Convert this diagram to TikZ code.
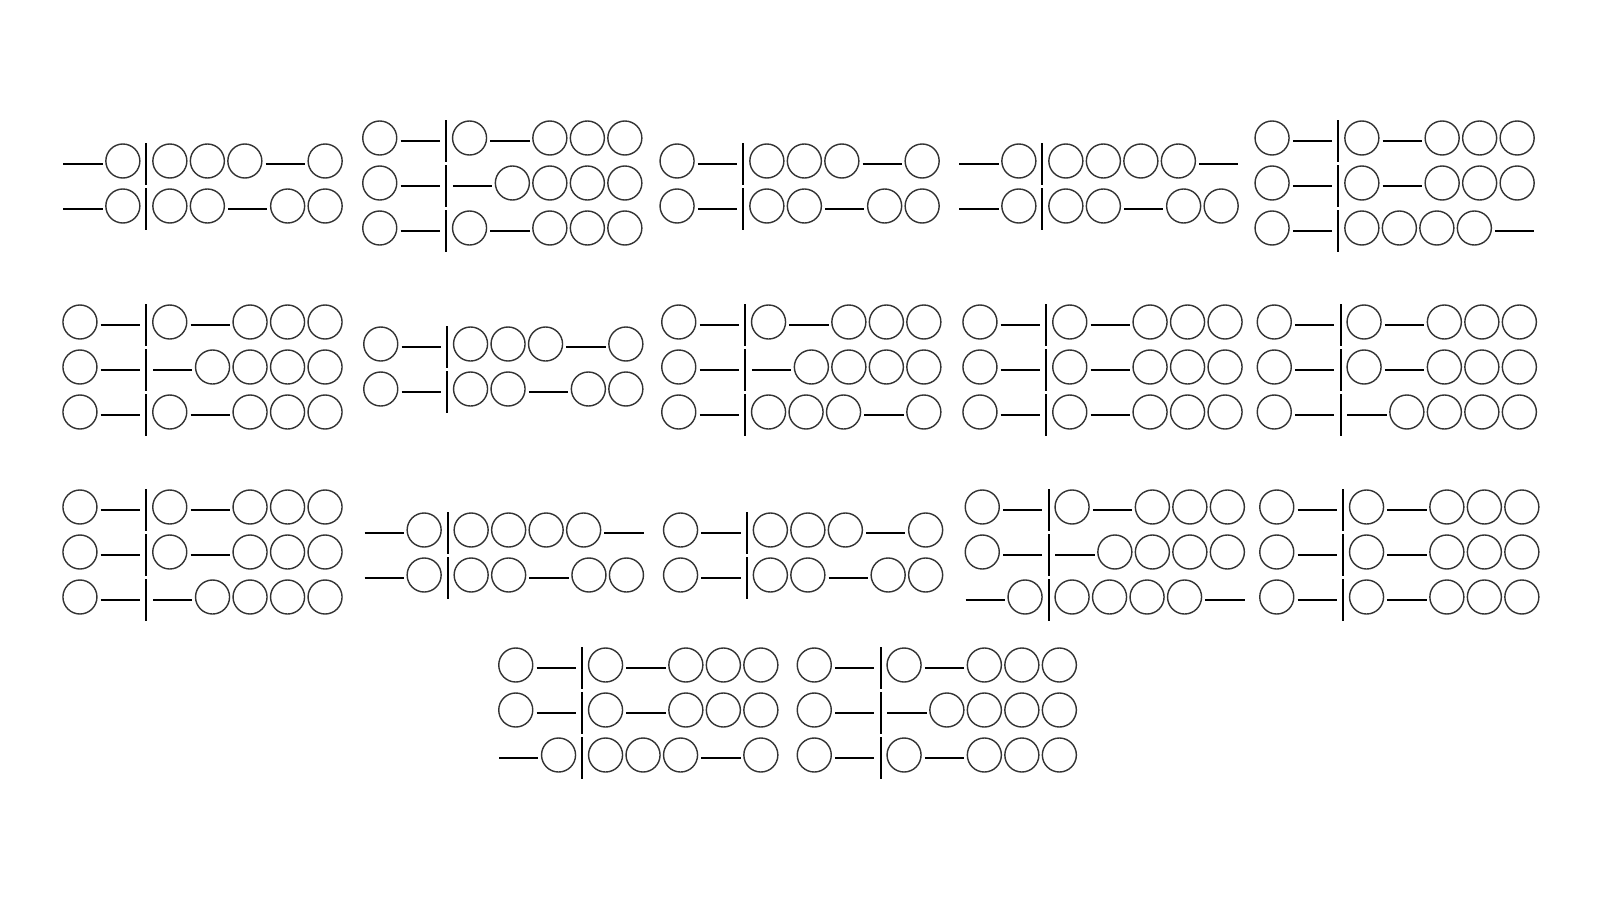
\documentclass[tikz,border=0pt]{standalone}
\begin{document}
\begin{tikzpicture}[x=0.01cm,y=0.01cm,
  bead/.style={draw=black!80,line width=0.4pt},
  rod/.style={draw=black,line width=0.75pt},
  barline/.style={draw=black,line width=0.75pt}]
\fill[white] (0,0) rectangle (1600,-900);
\useasboundingbox (0,0) rectangle (1600,-900);
% #1 row start x, #2 bead centre y (image px), #3 upper bead (0 = left, 1 = right), #4 lower count
\newcommand\abrow[4]{%
  \pgfmathsetmacro\abX{#1}\pgfmathsetmacro\abY{-round(#2)}%
  \pgfmathsetmacro\abB{round(\abX+85.05)}%
  \ifnum#3=0
    \draw[bead] (\abX+18.75,\abY) circle[radius=0.17cm];
    \draw[rod] (\abX+39.5,\abY-3) -- (\abX+78.8,\abY-3);
  \else
    \draw[rod] (\abX+2,\abY-3) -- (\abX+41.3,\abY-3);
    \draw[bead] (\abX+61.55,\abY) circle[radius=0.17cm];
  \fi
  \draw[barline] (\abB,\abY+17.6) -- (\abB,\abY-24);
  \pgfmathsetmacro\abR{\abX+89.8}%
  \foreach \i in {0,...,3}{%
    \ifnum\i<#4
      \draw[bead] (\abR+18.75+37.5*\i,\abY) circle[radius=0.17cm];
    \else
      \draw[bead] (\abR+61.55+37.5*\i,\abY) circle[radius=0.17cm];
    \fi}
  \draw[rod] (\abR+37.5*#4+2,\abY-3) -- (\abR+37.5*#4+41.3,\abY-3);
}
% band A
\abrow{61.3}{160.5}{1}{3}\abrow{61.3}{206.2}{1}{2}
\abrow{361}{137.5}{0}{1}\abrow{361}{182.5}{0}{0}\abrow{361}{227.5}{0}{1}
\abrow{658.3}{160.5}{0}{3}\abrow{658.3}{206.2}{0}{2}
\abrow{957.3}{160.5}{1}{4}\abrow{957.3}{206.2}{1}{2}
\abrow{1253.3}{137.5}{0}{1}\abrow{1253.3}{182.5}{0}{1}\abrow{1253.3}{227.5}{0}{4}
% band B
\abrow{61.2}{321.7}{0}{1}\abrow{61.2}{366.7}{0}{0}\abrow{61.2}{411.7}{0}{1}
\abrow{362}{344}{0}{3}\abrow{362}{389}{0}{2}
\abrow{660}{321.7}{0}{1}\abrow{660}{366.7}{0}{0}\abrow{660}{411.7}{0}{3}
\abrow{961.2}{321.7}{0}{1}\abrow{961.2}{366.7}{0}{1}\abrow{961.2}{411.7}{0}{1}
\abrow{1255.5}{321.7}{0}{1}\abrow{1255.5}{366.7}{0}{1}\abrow{1255.5}{411.7}{0}{0}
% band C
\abrow{61.2}{507}{0}{1}\abrow{61.2}{552}{0}{1}\abrow{61.2}{597}{0}{0}
\abrow{362.6}{529.5}{1}{4}\abrow{362.6}{574.5}{1}{2}
\abrow{661.8}{529.5}{0}{3}\abrow{661.8}{574.5}{0}{2}
\abrow{963.5}{507}{0}{1}\abrow{963.5}{552}{0}{0}\abrow{963.5}{597}{1}{4}
\abrow{1258}{507}{0}{1}\abrow{1258}{552}{0}{1}\abrow{1258}{597}{0}{1}
% band D
\abrow{497}{665.3}{0}{1}\abrow{497}{710.3}{0}{1}\abrow{497}{755.3}{1}{3}
\abrow{795.5}{665.3}{0}{1}\abrow{795.5}{710.3}{0}{0}\abrow{795.5}{755.3}{0}{1}
\end{tikzpicture}
\end{document}
